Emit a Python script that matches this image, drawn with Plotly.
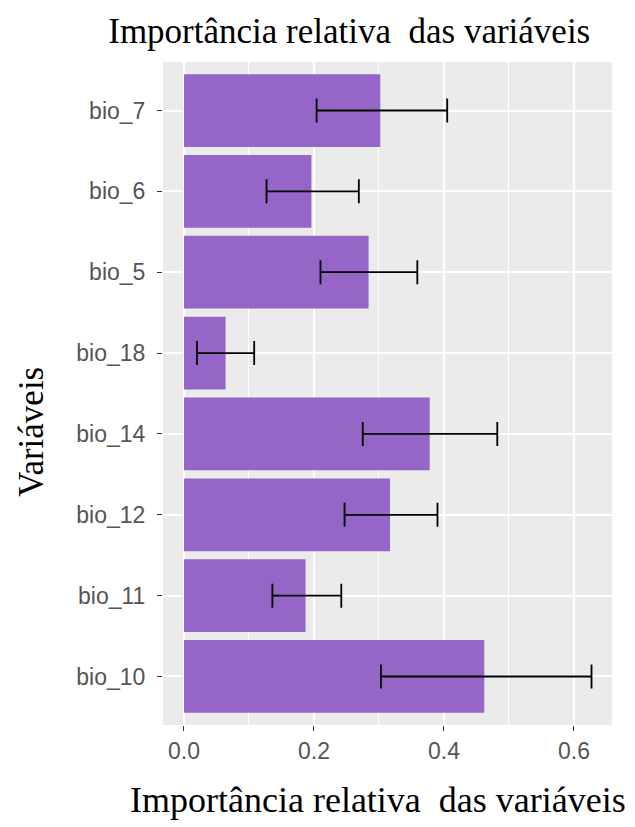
import plotly.graph_objects as go

# Variables, bottom to top as drawn on the discrete axis
variables = ["bio_10", "bio_11", "bio_12", "bio_14", "bio_18", "bio_5", "bio_6", "bio_7"]
importance = [0.462, 0.187, 0.317, 0.378, 0.064, 0.284, 0.196, 0.302]
lower = [0.303, 0.136, 0.247, 0.275, 0.020, 0.210, 0.127, 0.204]
upper = [0.627, 0.242, 0.390, 0.482, 0.108, 0.359, 0.269, 0.405]

x_ticks = [0.0, 0.2, 0.4, 0.6]
x_tick_text = ["0.0", "0.2", "0.4", "0.6"]

err_plus = [u - v for u, v in zip(upper, importance)]
err_minus = [v - l for v, l in zip(importance, lower)]

serif = "Liberation Serif, Times New Roman, serif"
sans = "Liberation Sans, Arial, sans-serif"

fig = go.Figure()
fig.add_trace(go.Bar(
    y=variables,
    x=importance,
    orientation="h",
    width=0.9,
    marker=dict(color="#9565C8", line=dict(width=0)),
    error_x=dict(
        type="data",
        symmetric=False,
        array=err_plus,
        arrayminus=err_minus,
        color="black",
        thickness=1.8,
        width=12,
    ),
    hoverinfo="skip",
))

fig.update_layout(
    width=635,
    height=827,
    margin=dict(l=163, r=23, t=62, b=102),
    paper_bgcolor="white",
    plot_bgcolor="#EBEBEB",
    showlegend=False,
    bargap=0.1,
    title=dict(
        text="Importância relativa  das variáveis",
        font=dict(family=serif, size=35, color="black"),
        xref="container", yref="container",
        x=0.55, xanchor="center",
        y=1 - 31 / 827, yanchor="middle",
    ),
    xaxis=dict(
        range=[-0.0323, 0.6585],
        tickvals=x_ticks,
        ticktext=x_tick_text,
        ticks="outside",
        ticklen=5,
        tickwidth=1.1,
        tickcolor="#333333",
        tickfont=dict(family=sans, size=23, color="#555555"),
        showgrid=True,
        gridcolor="white",
        gridwidth=1.6,
        minor=dict(dtick=0.1, tick0=0, showgrid=True, gridcolor="white", gridwidth=0.8, ticks=""),
        zeroline=False,
        showline=False,
        fixedrange=True,
    ),
    yaxis=dict(
        type="category",
        categoryorder="array",
        categoryarray=variables,
        range=[-0.6, 7.6],
        ticks="outside",
        ticklen=5,
        tickwidth=1.1,
        tickcolor="#333333",
        tickfont=dict(family=sans, size=23, color="#555555"),
        ticklabelstandoff=7,
        showgrid=True,
        gridcolor="white",
        gridwidth=1.6,
        zeroline=False,
        showline=False,
        fixedrange=True,
    ),
    annotations=[
        dict(
            text="Importância relativa  das variáveis",
            xref="paper", yref="paper",
            x=(378 - 163) / 449, y=(725 - 800) / 663,
            xanchor="center", yanchor="middle",
            showarrow=False,
            font=dict(family=serif, size=36, color="black"),
        ),
        dict(
            text="Variáveis",
            xref="paper", yref="paper",
            x=(31 - 163) / 449, y=(725 - 432) / 663,
            xanchor="center", yanchor="middle",
            textangle=-90,
            showarrow=False,
            font=dict(family=serif, size=35, color="black"),
        ),
    ],
)

fig.write_html("out.html")
